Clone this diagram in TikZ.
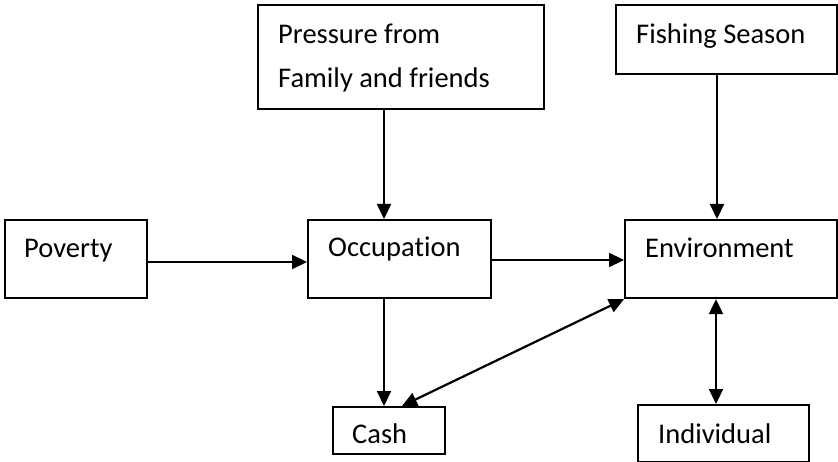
\documentclass[tikz,border=0pt]{standalone}
\usepackage{fontspec}
\setmainfont{Carlito}[Ligatures={NoCommon,NoRare,NoContextual}]
\usetikzlibrary{arrows.meta}
\tikzset{
  box/.style={draw, line width=2.2pt, inner sep=0pt, anchor=north west},
  lbl/.style={inner sep=0pt, anchor=base west, font=\fontsize{28.5}{34}\selectfont},
  arr/.style={line width=2.2pt, -{Triangle[length=15pt,width=14pt]}},
  arrb/.style={line width=2.2pt, {Triangle[length=15pt,width=14pt]}-{Triangle[length=15pt,width=14pt]}}
}
\begin{document}
\begin{tikzpicture}[x=1pt,y=-1pt]
\useasboundingbox (0,0) rectangle (838,462);
% boxes
\node[box, minimum width=286pt, minimum height=104pt] (pres) at (257,4) {};
\node[box, minimum width=221pt, minimum height=69pt] (fish) at (615,4) {};
\node[box, minimum width=142pt, minimum height=78pt] (pov) at (4,219) {};
\node[box, minimum width=183pt, minimum height=78pt] (occ) at (307,219) {};
\node[box, minimum width=212pt, minimum height=78pt] (env) at (624,219) {};
\node[box, minimum width=112pt, minimum height=47pt] (cash) at (332,406) {};
\node[box, minimum width=171pt, minimum height=57pt] (ind) at (637,404) {};
% labels
\node[lbl] (t1) at (278,44) {Pressure from};
\node[lbl] (t2) at (278,88) {Family and friends};
\node[lbl] (t3) at (636,44) {Fishing Season};
\node[lbl] (t4) at (24,258) {Poverty};
\node[lbl] (t5) at (328,257) {Occupation};
\node[lbl] (t6) at (645,258) {Environment};
\node[lbl] (t7) at (352,443) {Cash};
\node[lbl] (t8) at (658,443) {Individual};
% guide coordinates
\coordinate (xa) at (384,0);
\coordinate (xb) at (717,0);
\coordinate (xc) at (716,0);
\coordinate (xd) at (402,0);
\coordinate (ya) at (0,262);
\coordinate (yb) at (0,260);
% connectors
\draw[arr] (pres.south -| xa) -- (occ.north -| xa);
\draw[arr] (fish.south -| xb) -- (env.north -| xb);
\draw[arr] (pov.east |- ya) -- (occ.west |- ya);
\draw[arr] (occ.east |- yb) -- (env.west |- yb);
\draw[arr] (occ.south -| xa) -- (cash.north -| xa);
\draw[arrb] (env.south west) -- (cash.north -| xd);
\draw[arrb] (env.south -| xc) -- (ind.north -| xc);
\end{tikzpicture}
\end{document}
